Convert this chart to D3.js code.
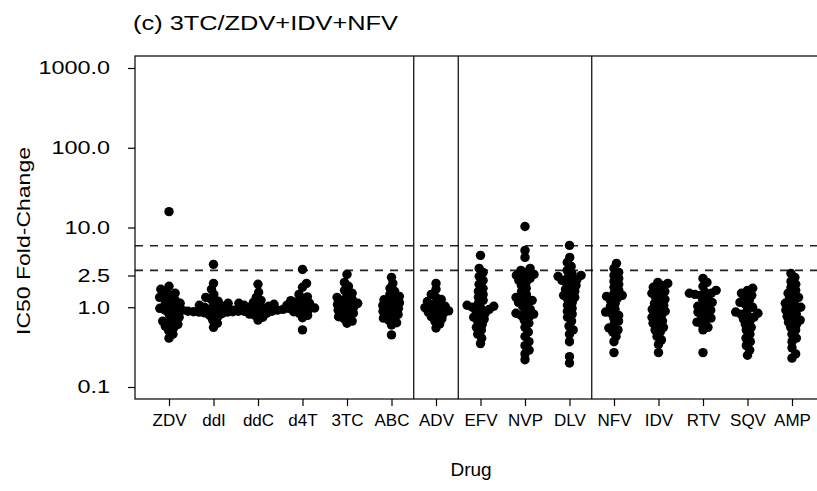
<!DOCTYPE html>
<html>
<head>
<meta charset="utf-8">
<script src="https://cdn.jsdelivr.net/npm/d3@7"></script>
<style>
  body { margin: 0; background: #fff; }
  svg text { font-family: "Liberation Sans", Arial, sans-serif; fill: #000; }
</style>
</head>
<body>
<div class="forSvg"></div>
<script>
// -DATA- IC50 fold-change per drug
const drugs = ["ZDV", "ddI", "ddC", "d4T", "3TC", "ABC", "ADV", "EFV", "NVP", "DLV", "NFV", "IDV", "RTV", "SQV", "AMP"];

const zdv = [15.8, 1.83, 1.68, 1.58, 1.50, 1.41, 1.33, 1.30, 1.22, 1.19, 1.12, 1.09, 1.03, 1.00, 0.97, 0.92, 0.87, 0.82, 0.75, 0.71, 0.67, 0.65, 0.61, 0.58, 0.55, 0.51, 0.46, 0.41];
const ddi = [3.45, 1.99, 1.68, 1.45, 1.33, 1.26, 1.19, 1.12, 1.09, 1.06, 1.03, 1.00, 0.97, 0.94, 0.92, 0.90, 0.89, 0.89, 0.88, 0.88, 0.87, 0.87, 0.86, 0.85, 0.83, 0.79, 0.75, 0.69, 0.63, 0.56];
const ddc = [1.94, 1.54, 1.33, 1.22, 1.15, 1.12, 1.09, 1.06, 1.06, 1.03, 1.03, 1.00, 1.00, 1.00, 0.97, 0.97, 0.97, 0.94, 0.94, 0.94, 0.92, 0.92, 0.92, 0.89, 0.89, 0.87, 0.84, 0.82, 0.79, 0.75, 0.69];
const d4t = [2.98, 1.99, 1.78, 1.45, 1.35, 1.27, 1.21, 1.16, 1.12, 1.09, 1.06, 1.03, 1.01, 0.98, 0.95, 0.92, 0.88, 0.84, 0.79, 0.74, 0.52];
const tc3 = [2.58, 2.05, 1.83, 1.63, 1.50, 1.41, 1.33, 1.26, 1.22, 1.17, 1.12, 1.08, 1.04, 1.00, 0.96, 0.92, 0.88, 0.84, 0.80, 0.76, 0.72, 0.67, 0.63];
const abc = [2.37, 1.99, 1.73, 1.58, 1.45, 1.37, 1.30, 1.24, 1.19, 1.14, 1.09, 1.05, 1.01, 0.97, 0.93, 0.89, 0.85, 0.81, 0.77, 0.73, 0.69, 0.64, 0.60, 0.45];
const adv = [1.99, 1.68, 1.45, 1.33, 1.25, 1.18, 1.12, 1.07, 1.03, 0.99, 0.96, 0.93, 0.90, 0.87, 0.84, 0.80, 0.76, 0.72, 0.67, 0.62, 0.55];
const efv = [4.47, 3.07, 2.74, 2.44, 2.17, 1.94, 1.73, 1.58, 1.45, 1.33, 1.22, 1.12, 1.06, 1.03, 1.00, 0.97, 0.94, 0.89, 0.84, 0.79, 0.75, 0.71, 0.67, 0.61, 0.56, 0.52, 0.46, 0.41, 0.35];
const nvp = [10.3, 5.16, 4.22, 3.07, 2.90, 2.74, 2.58, 2.51, 2.37, 2.30, 2.17, 2.05, 1.88, 1.73, 1.58, 1.45, 1.33, 1.26, 1.22, 1.15, 1.12, 1.03, 0.94, 0.89, 0.84, 0.82, 0.79, 0.75, 0.69, 0.63, 0.56, 0.49, 0.43, 0.37, 0.33, 0.29, 0.26, 0.22];
const dlv = [5.96, 4.22, 3.65, 3.25, 2.90, 2.66, 2.51, 2.44, 2.37, 2.24, 2.17, 2.11, 1.99, 1.88, 1.78, 1.68, 1.58, 1.50, 1.41, 1.33, 1.26, 1.15, 1.06, 0.97, 0.89, 0.82, 0.75, 0.67, 0.58, 0.52, 0.46, 0.37, 0.24, 0.20];
const nfv = [3.55, 3.07, 2.74, 2.51, 2.30, 2.11, 1.94, 1.78, 1.63, 1.50, 1.41, 1.37, 1.30, 1.22, 1.12, 1.03, 0.94, 0.87, 0.84, 0.79, 0.73, 0.67, 0.61, 0.55, 0.52, 0.49, 0.43, 0.37, 0.27];
const idv = [2.05, 1.99, 1.88, 1.78, 1.68, 1.58, 1.50, 1.41, 1.33, 1.26, 1.19, 1.12, 1.06, 1.00, 0.94, 0.89, 0.84, 0.79, 0.75, 0.71, 0.67, 0.63, 0.60, 0.56, 0.52, 0.49, 0.43, 0.39, 0.34, 0.27];
const rtv = [2.30, 2.05, 1.83, 1.63, 1.54, 1.50, 1.50, 1.45, 1.41, 1.33, 1.22, 1.15, 1.09, 1.03, 0.97, 0.92, 0.87, 0.82, 0.77, 0.73, 0.69, 0.65, 0.61, 0.56, 0.52, 0.27];
const sqv = [1.73, 1.63, 1.50, 1.41, 1.30, 1.22, 1.15, 1.09, 1.00, 0.94, 0.87, 0.84, 0.82, 0.79, 0.75, 0.71, 0.67, 0.61, 0.56, 0.52, 0.46, 0.41, 0.37, 0.33, 0.29, 0.25];
const amp = [2.66, 2.37, 2.11, 1.94, 1.78, 1.63, 1.50, 1.41, 1.33, 1.26, 1.19, 1.12, 1.06, 1.00, 0.97, 0.92, 0.87, 0.82, 0.77, 0.73, 0.69, 0.65, 0.61, 0.56, 0.52, 0.46, 0.41, 0.37, 0.31, 0.26, 0.23];

const series = [zdv, ddi, ddc, d4t, tc3, abc, adv, efv, nvp, dlv, nfv, idv, rtv, sqv, amp];

// y ticks and cutoff lines
const yTicks = [0.1, 1.0, 2.5, 10.0, 100.0, 1000.0];
const cutoffs = [2.9, 5.9];
// class boundaries (after ABC, after ADV, after DLV)
const groupBreaks = ["ABC", "ADV", "DLV"];

const titleText = "(c) 3TC/ZDV+IDV+NFV";

// -SIZES-
const svg_w = 817;
const svg_h = 491;
const boxLeft = 135;
const boxRight = 826;
const boxTop = 56;
const boxBottom = 399;
const dotRad = 4.7;
const swarmGap = 5.6;   // centre distance used by the swarm (dots overlap a bit, as in R)

const svg = d3.select(".forSvg")
    .append("svg")
    .attr("width", svg_w)
    .attr("height", svg_h);

// scales
const xScale = d3.scalePoint()
    .domain(drugs)
    .range([169, 792]);

const yScale = d3.scaleLog()
    .domain([0.1, 1000])
    .range([387, 68]);

// beeswarm: put each point as close to the centre as it can go without overlap
function swarm(ys, d) {
    const order = ys.map((y, i) => i).sort((a, b) => ys[b] - ys[a]);
    const placed = [];
    const xs = new Array(ys.length);
    for (const i of order) {
        const y = ys[i];
        const near = placed.filter(p => Math.abs(p.y - y) < d);
        const cands = [0];
        near.forEach(p => {
            const dx = Math.sqrt(d * d - (p.y - y) * (p.y - y));
            cands.push(p.x + dx, p.x - dx);
        });
        cands.sort((a, b) => Math.abs(a) - Math.abs(b));
        for (const c of cands) {
            if (near.every(p => (p.x - c) * (p.x - c) + (p.y - y) * (p.y - y) >= d * d - 0.01)) {
                xs[i] = c;
                break;
            }
        }
        placed.push({ x: xs[i], y: y });
    }
    return xs;
}

// build point table
const points = [];
series.forEach((vals, k) => {
    const ys = vals.map(v => yScale(v));
    const xs = swarm(ys, swarmGap);
    vals.forEach((v, i) => points.push({ drug: drugs[k], value: v, off: xs[i] }));
});

// cutoff lines
svg.selectAll(".cut")
    .data(cutoffs)
    .enter()
    .append("line")
    .attr("x1", boxLeft)
    .attr("x2", boxRight)
    .attr("y1", d => yScale(d))
    .attr("y2", d => yScale(d))
    .attr("stroke", "#222")
    .attr("stroke-width", 1.6)
    .attr("stroke-dasharray", "8,7");

// group separators
svg.selectAll(".sep")
    .data(groupBreaks)
    .enter()
    .append("line")
    .attr("x1", d => xScale(d) + xScale.step() / 2)
    .attr("x2", d => xScale(d) + xScale.step() / 2)
    .attr("y1", boxTop)
    .attr("y2", boxBottom)
    .attr("stroke", "#000")
    .attr("stroke-width", 1.2);

// dots
svg.selectAll("circle")
    .data(points)
    .enter()
    .append("circle")
    .attr("cx", d => xScale(d.drug) + d.off)
    .attr("cy", d => yScale(d.value))
    .attr("r", dotRad)
    .attr("fill", "#000");

// box
svg.append("rect")
    .attr("x", boxLeft)
    .attr("y", boxTop)
    .attr("width", boxRight - boxLeft)
    .attr("height", boxBottom - boxTop)
    .attr("fill", "none")
    .attr("stroke", "#000")
    .attr("stroke-width", 1.2);

// stretch a text sideways, like the wide font of the original
function widen(sel, k) {
    sel.each(function() {
        const w = this.getComputedTextLength();
        d3.select(this).attr("textLength", w * k).attr("lengthAdjust", "spacingAndGlyphs");
    });
}

// -AXIS-
const yAxis = d3.axisLeft(yScale)
    .tickValues(yTicks)
    .tickFormat(d3.format(".1f"))
    .tickSize(7)
    .tickPadding(18);

svg.append("g")
    .attr("id", "y-axis")
    .attr("transform", "translate(" + boxLeft + ",0)")
    .call(yAxis)
    .call(g => g.select(".domain").remove())
    .call(g => g.selectAll("line").attr("stroke-width", 1.2))
    .call(g => g.selectAll("text").attr("font-size", "18px").attr("font-family", null).call(widen, 1.3));

const xAxis = d3.axisBottom(xScale)
    .tickSize(7)
    .tickPadding(8);

svg.append("g")
    .attr("id", "x-axis")
    .attr("transform", "translate(0," + boxBottom + ")")
    .call(xAxis)
    .call(g => g.select(".domain").remove())
    .call(g => g.selectAll("line").attr("stroke-width", 1.2))
    .call(g => g.selectAll("text").attr("font-size", "17px").attr("font-family", null));

// -TITLES-
svg.append("text")
    .attr("x", 133)
    .attr("y", 30)
    .attr("font-size", "21px")
    .attr("textLength", 265)
    .attr("lengthAdjust", "spacingAndGlyphs")
    .text(titleText);

svg.append("text")
    .attr("transform", "rotate(-90)")
    .attr("x", -241)
    .attr("y", 30)
    .attr("text-anchor", "middle")
    .attr("font-size", "19px")
    .attr("textLength", 188)
    .attr("lengthAdjust", "spacingAndGlyphs")
    .text("IC50 Fold-Change");

svg.append("text")
    .attr("x", 471)
    .attr("y", 476)
    .attr("text-anchor", "middle")
    .attr("font-size", "19px")
    .text("Drug");
</script>
</body>
</html>
